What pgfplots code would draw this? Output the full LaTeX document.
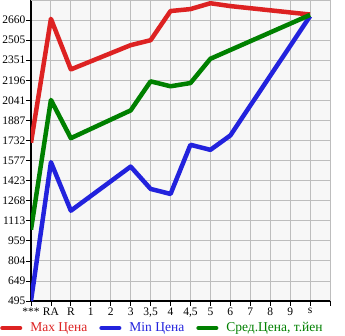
\documentclass[border=0pt]{standalone}
\usepackage{pgfplots}
\pgfplotsset{compat=1.18}
\usepackage{fontspec}
\setmainfont{Liberation Serif}
\definecolor{mred}{HTML}{DD2222}
\definecolor{mblue}{HTML}{2222DD}
\definecolor{mgreen}{HTML}{008000}
\definecolor{bgc}{HTML}{F7F7F7}
\definecolor{gridc}{HTML}{BDBDBD}
\begin{document}
\begin{tikzpicture}
\useasboundingbox (0,0) rectangle (345pt,335pt);
\begin{axis}[
  at={(31pt,34pt)}, anchor=south west,
  scale only axis, width=299pt, height=301pt,
  xmin=0, xmax=15, ymin=495, ymax=2815,
  axis lines*=left,
  axis line style={line width=1.5pt, black},
  axis background/.style={fill=bgc},
  xtick={0,...,14},
  xticklabels={***,RA,R,1,2,3,{3,5},4,{4,5},5,6,7,8,9,s},
  extra x ticks={15}, extra x tick labels={},
  ytick={495,649,804,959,1113,1268,1423,1577,1732,1887,2041,2196,2351,2505,2660},
  extra y ticks={2815}, extra y tick labels={},
  extra y tick style={major tick length=0pt},
  grid=major,
  major grid style={gridc, line width=0.9pt},
  tick align=outside, major tick length=4.5pt,
  tick style={black, line width=0.8pt},
  /pgf/number format/assume math mode=true,
  yticklabel style={font=\fontsize{11.5}{13}\selectfont, inner sep=1pt},
  xticklabel style={font=\fontsize{11.5}{13}\selectfont, inner sep=1pt, yshift=-1.5pt},
  y tick label style={/pgf/number format/fixed, /pgf/number format/1000 sep={}},
  clip=true,
  legend columns=3,
  legend style={at={(axis description cs:-0.1037,-0.0897)}, anchor=west,
    draw=none, fill=none, inner sep=0pt,
    font=\fontsize{13.5}{16}\selectfont,
    /tikz/every odd column/.append style={column sep=6pt},
    /tikz/every even column/.append style={column sep=10pt}},
  legend image code/.code={\draw[line width=4.5pt, line cap=round] (2.2pt,0pt) -- (19.8pt,0pt);},
]
\addplot[mred, line width=4.5pt, line join=round] coordinates {
(0,1715) (1,2670) (2,2280) (5,2467) (6,2505) (7,2730) (8,2745) (9,2790) (10,2768) (14,2703)};
\addlegendentry{\textcolor{mred}{Max Цена}}
\addplot[mblue, line width=4.5pt, line join=round] coordinates {
(0,495) (1,1565) (2,1191) (5,1531) (6,1359) (7,1320) (8,1699) (9,1660) (10,1771) (14,2690)};
\addlegendentry{\textcolor{mblue}{Min Цена}}
\addplot[mgreen, line width=4.5pt, line join=round] coordinates {
(0,1045) (1,2045) (2,1750) (5,1964) (6,2188) (7,2150) (8,2175) (9,2362) (14,2700)};
\addlegendentry{\textcolor{mgreen}{Сред.Цена, т.йен}}
\end{axis}
\end{tikzpicture}
\end{document}
